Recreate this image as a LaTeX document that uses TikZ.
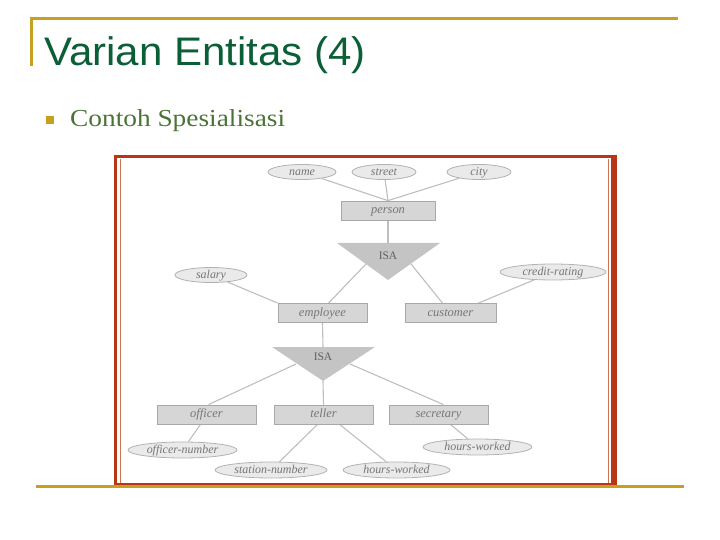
\documentclass[tikz,border=0pt]{standalone}
\usepackage{fontspec}
\setmainfont{Liberation Serif}
\newfontfamily\titlefont[FakeStretch=1.055]{Liberation Sans}
\newfontfamily\subfont[FakeStretch=1.12]{Liberation Serif}
\usetikzlibrary{shapes.geometric,backgrounds}
\definecolor{gold}{RGB}{198,160,32}
\definecolor{titlegreen}{RGB}{10,95,55}
\definecolor{subgreen}{RGB}{75,115,55}
\definecolor{framered}{RGB}{182,54,22}
\definecolor{frameinner}{RGB}{205,115,80}
\definecolor{linegray}{RGB}{190,190,190}
\definecolor{entfill}{RGB}{214,214,214}
\definecolor{entdraw}{RGB}{168,168,168}
\definecolor{attrfill}{RGB}{234,234,234}
\definecolor{attrdraw}{RGB}{178,178,178}
\definecolor{isafill}{RGB}{196,196,196}
\definecolor{txtgray}{RGB}{118,118,118}
\tikzset{
  ent/.style={rectangle, fill=entfill, draw=entdraw, line width=0.8pt, inner sep=0pt,
    minimum height=19bp, text height=1.5ex, text depth=0pt, text=txtgray,
    font=\itshape\fontsize{12.5}{13}\selectfont},
  attr/.style={ellipse, fill=attrfill, draw=attrdraw, line width=0.8pt, inner sep=0pt,
    minimum height=15bp, text height=1.5ex, text depth=0pt, text=txtgray,
    font=\itshape\fontsize{12}{13}\selectfont},
  conn/.style={draw=linegray, line width=1.1pt},
  isatxt/.style={text={rgb,255:red,95;green,95;blue,95}, font=\fontsize{11.5}{12}\selectfont},
  goldline/.style={draw=gold, line width=3bp}
}
\begin{document}
\begin{tikzpicture}[x=1bp,y=-1bp]
\useasboundingbox (0,0) rectangle (720,540);
% slide decoration
\draw[goldline] (30,18.5) -- (678,18.5);
\draw[goldline] (31.5,17) -- (31.5,66);
\node[anchor=base west, inner sep=0pt, text=titlegreen, font=\titlefont\fontsize{40}{44}\selectfont] (title) at (44,66) {Varian Entitas (4)};
\node[fill=gold, minimum width=8bp, minimum height=8bp, inner sep=0pt] (bullet) at (50,120) {};
\node[anchor=base west, inner sep=0pt, text=subgreen, font=\subfont\fontsize{24.5}{26}\selectfont] (sub) at (70,127) {Contoh Spesialisasi};
% frame
\draw[draw=framered, line width=3bp] (115.5,157) rectangle (615,484.5);
\draw[draw=framered, line width=3bp] (612,157) -- (612,484.5);
\draw[draw=frameinner, line width=1.2bp] (120.5,159) -- (120.5,483);
\draw[draw=frameinner, line width=1.2bp] (608.5,159) -- (608.5,483);
\draw[goldline] (36,486.5) -- (684,486.5);
% ISA triangles
\coordinate (i1l) at (337,243);
\coordinate (i1r) at (440,243);
\coordinate (i1b) at (388,280);
\fill[isafill] (i1l) -- (i1r) -- (i1b) -- cycle;
\node[isatxt] (isa1) at (388,256) {ISA};
\coordinate (i2l) at (272,347);
\coordinate (i2r) at (375,347);
\coordinate (i2b) at (323,381);
\fill[isafill] (i2l) -- (i2r) -- (i2b) -- cycle;
\node[isatxt] (isa2) at (323,357) {ISA};
\coordinate (i1top) at (388,243);
\coordinate (i1el) at (366,264);
\coordinate (i1er) at (411,264);
\coordinate (i2top) at (323,347);
\coordinate (i2el) at (296,364);
\coordinate (i2er) at (350,364);
% entities
\node[ent, minimum width=94bp] (person) at (388,210.5) {person};
\node[ent, minimum width=89bp] (employee) at (322.5,313) {employee};
\node[ent, minimum width=91bp] (customer) at (450.5,313) {customer};
\node[ent, minimum width=99bp] (officer) at (206.5,414.5) {officer};
\node[ent, minimum width=99bp] (teller) at (323.5,414.5) {teller};
\node[ent, minimum width=99bp] (secretary) at (438.5,414.5) {secretary};
% attributes
\node[attr, minimum width=68bp] (name) at (302,172) {name};
\node[attr, minimum width=64bp] (street) at (384,172) {street};
\node[attr, minimum width=64bp] (city) at (479,172) {city};
\node[attr, minimum width=72bp] (salary) at (211,275) {salary};
\node[attr, minimum width=106bp, minimum height=16bp] (credit) at (553,272) {credit-rating};
\node[attr, minimum width=109bp, minimum height=16bp] (offnum) at (182.5,450) {officer-number};
\node[attr, minimum width=112bp, minimum height=16bp] (stnum) at (271,470) {station-number};
\node[attr, minimum width=107bp, minimum height=16bp] (hw1) at (396.5,470) {hours-worked};
\node[attr, minimum width=109bp, minimum height=16bp] (hw2) at (477.5,447) {hours-worked};
% connectors behind the nodes
\begin{scope}[on background layer]
\path[conn] (name) -- (person.north);
\path[conn] (street) -- (person.north);
\path[conn] (city) -- (person.north);
\path[conn] (person.south) -- (i1top);
\path[conn] (i1el) -- ([xshift=6bp]employee.north);
\path[conn] (i1er) -- ([xshift=-8bp]customer.north);
\path[conn] (salary) -- (employee.north west);
\path[conn] (credit) -- ([xshift=-18bp]customer.north east);
\path[conn] (employee.south) -- (i2top);
\path[conn] (i2el) -- ([xshift=2bp]officer.north);
\path[conn] (i2b) -- (teller.north);
\path[conn] (i2er) -- ([xshift=5bp]secretary.north);
\path[conn] ([xshift=-6bp]officer.south) -- (offnum);
\path[conn] ([xshift=-6bp]teller.south) -- (stnum);
\path[conn] ([xshift=16bp]teller.south) -- (hw1);
\path[conn] ([xshift=12bp]secretary.south) -- (hw2);
\end{scope}
\end{tikzpicture}
\end{document}
